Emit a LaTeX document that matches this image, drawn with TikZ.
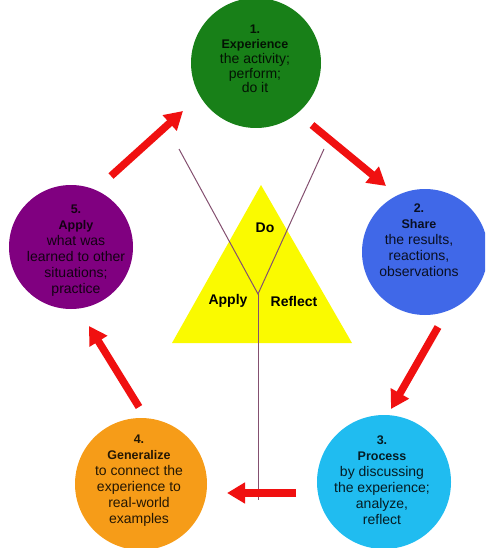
\documentclass[tikz,border=0pt]{standalone}
\usepackage{fontspec}
\setmainfont{Liberation Sans}
\usetikzlibrary{arrows.meta}
\definecolor{cgreen}{RGB}{24,128,24}
\definecolor{cblue}{RGB}{64,104,232}
\definecolor{ccyan}{RGB}{32,188,240}
\definecolor{corange}{RGB}{246,156,24}
\definecolor{cpurple}{RGB}{128,0,128}
\definecolor{cyellow}{RGB}{250,250,0}
\definecolor{cred}{RGB}{240,16,16}
\definecolor{cline}{RGB}{132,80,112}
\begin{document}
\begin{tikzpicture}[x=1pt,y=-1pt,
  stage/.style={circle,draw=none,inner sep=0pt,minimum size=#1},
  stagetext/.style={align=center,text=black,text opacity=0.85,font=\fontsize{14}{16}\selectfont},
  flow/.style={draw=cred,line width=7.5pt,-{Triangle[width=20pt,length=18pt]}},
  yline/.style={draw=cline,line width=1pt},
  trilabel/.style={font=\fontsize{14}{15}\selectfont\bfseries,text=black}]
\useasboundingbox (0,0) rectangle (485,548);
\clip (0,0) rectangle (485,548);

% circles
\node[stage=130pt,fill=cgreen] (c1) at (256,63) {};
\node[stage=126pt,fill=cblue] (c2) at (425,252) {};
\node[stage=134pt,fill=ccyan] (c3) at (384,482) {};
\node[stage=132pt,fill=corange] (c4) at (141,484) {};
\node[stage=124pt,fill=cpurple] (c5) at (71,247) {};

% triangle
\coordinate (tA) at (261,185);
\coordinate (tL) at (172,343);
\coordinate (tR) at (352,343);
\fill[cyellow] (tA) -- (tL) -- (tR) -- cycle;

% Y lines
\coordinate (yl) at (179,149);
\coordinate (yr) at (324,149);
\coordinate (yj) at (258,294);
\coordinate (yb) at (258,500);
\draw[yline] (yl) -- (yj) -- (yr);
\draw[yline] (yj) -- (yb);

% arrows
\coordinate (a1s) at (111,176);
\coordinate (a1e) at (183,111);
\coordinate (a2s) at (312,125);
\coordinate (a2e) at (386,186);
\coordinate (a3s) at (438,327);
\coordinate (a3e) at (391,409);
\coordinate (a4s) at (296,493);
\coordinate (a4e) at (227,493);
\coordinate (a5s) at (139,407);
\coordinate (a5e) at (89,326);
\draw[flow] (a1s) -- (a1e);
\draw[flow] (a2s) -- (a2e);
\draw[flow] (a3s) -- (a3e);
\draw[flow] (a4s) -- (a4e);
\draw[flow] (a5s) -- (a5e);

% triangle labels
\node[trilabel] (do) at (265,228) {Do};
\node[trilabel] (ap) at (228,301) {Apply};
\node[trilabel] (re) at (294,301) {Reflect};

% circle texts
\newcommand{\hd}[1]{{\fontsize{12.5}{16}\selectfont\bfseries #1}}
\node[stagetext,font=\fontsize{14}{14.8}\selectfont] (t1) at (255,59)
  {\hd{1.}\\\hd{Experience}\\the activity;\\perform;\\do it};
\node[stagetext] (t2) at (419,240)
  {\hd{2.}\\\hd{Share}\\the results,\\reactions,\\observations};
\node[stagetext] (t3) at (382,480)
  {\hd{3.}\\\hd{Process}\\by discussing\\the experience;\\analyze,\\reflect};
\node[stagetext] (t4) at (139,481)
  {\hd{4.}\\\hd{Generalize}\\to connect the\\experience to\\real-world\\examples};
\node[stagetext] (t5) at (76,251)
  {\hd{5.}\\\hd{Apply}\\what was\\learned to other\\situations;\\practice};
\end{tikzpicture}
\end{document}
